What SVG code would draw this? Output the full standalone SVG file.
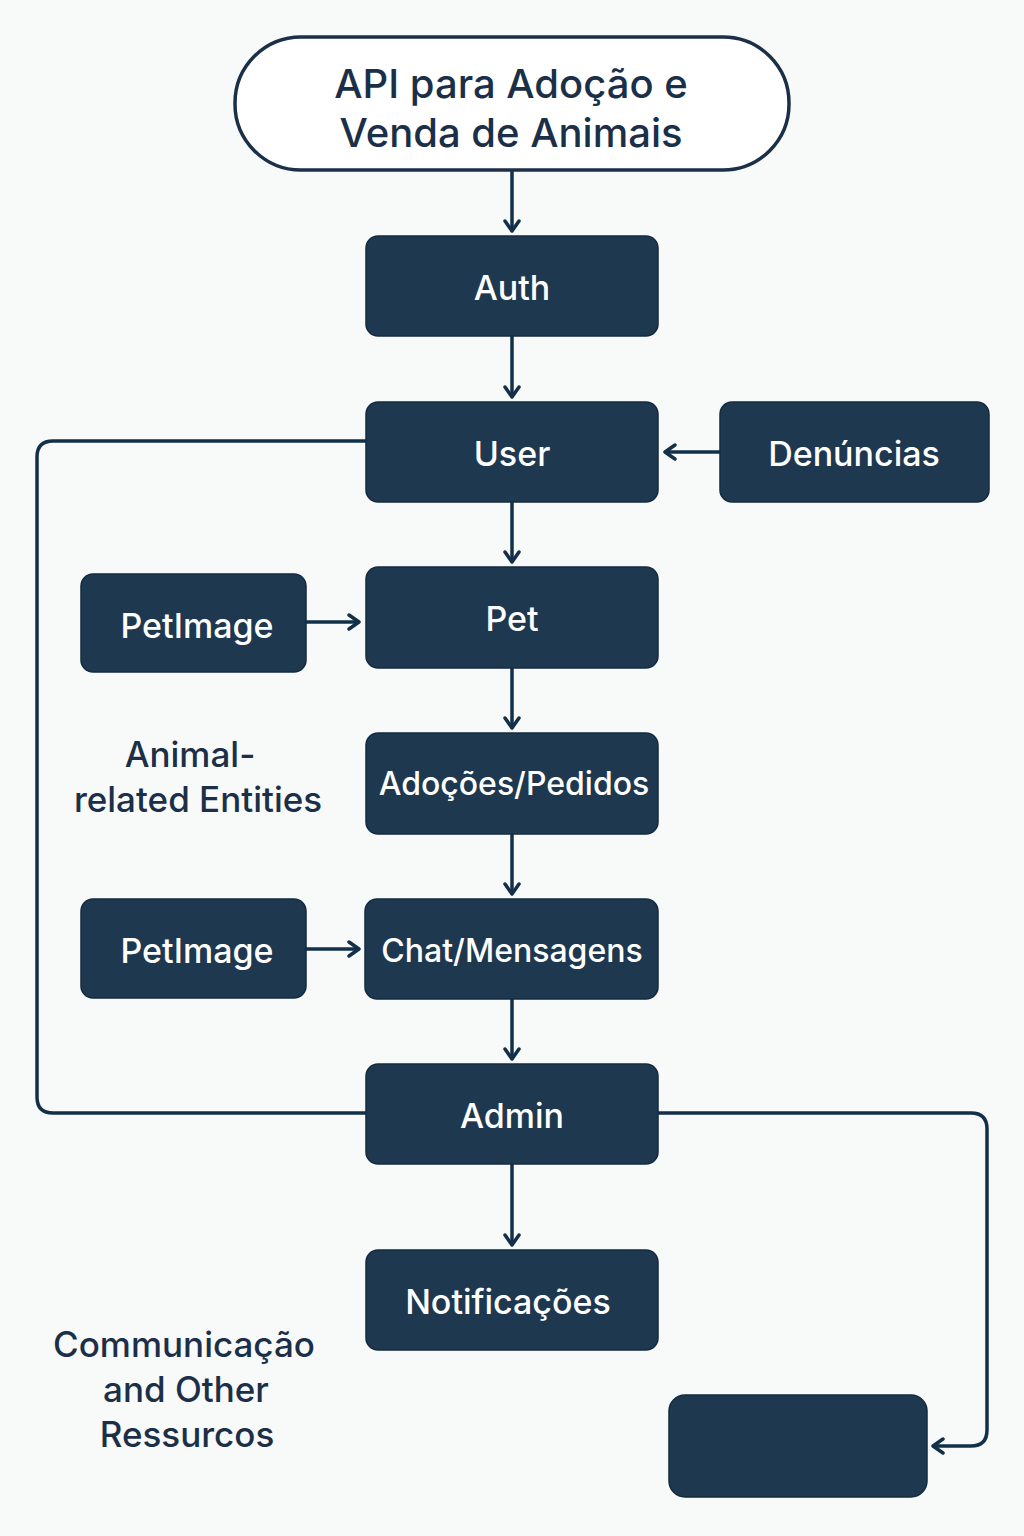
<svg xmlns="http://www.w3.org/2000/svg" width="1024" height="1536" viewBox="0 0 1024 1536">
<style>
.bg{fill:#f8f9f9}
.box{fill:#1e3850;stroke:#132b40;stroke-width:1.5}
.lbl{font-family:Inter,"Noto Sans","Liberation Sans",sans-serif;font-size:34px;fill:#ffffff;text-anchor:middle;dominant-baseline:central;font-weight:500}
.note{font-family:Inter,"Noto Sans","Liberation Sans",sans-serif;font-size:35px;fill:#1b3048;text-anchor:middle;font-weight:500}
.title{font-family:Inter,"Noto Sans","Liberation Sans",sans-serif;font-size:40px;fill:#1b3048;text-anchor:middle;font-weight:500}
.ln{fill:none;stroke:#12304a;stroke-width:3.5;stroke-linejoin:round}
</style>
<defs>
<marker id="ah" markerWidth="14" markerHeight="18" refX="12" refY="9" orient="auto" markerUnits="userSpaceOnUse">
<path d="M2,2 L12,9 L2,16" fill="none" stroke="#12304a" stroke-width="3.5" stroke-linecap="round" stroke-linejoin="round"/>
</marker>
</defs>
<rect class="bg" x="0" y="0" width="1024" height="1536"/>

<g id="connectors">
<line class="ln" x1="512" y1="170" x2="512" y2="231" marker-end="url(#ah)"/>
<line class="ln" x1="512" y1="336" x2="512" y2="397" marker-end="url(#ah)"/>
<line class="ln" x1="512" y1="502" x2="512" y2="562" marker-end="url(#ah)"/>
<line class="ln" x1="512" y1="668" x2="512" y2="728" marker-end="url(#ah)"/>
<line class="ln" x1="512" y1="834" x2="512" y2="894" marker-end="url(#ah)"/>
<line class="ln" x1="512" y1="999" x2="512" y2="1059" marker-end="url(#ah)"/>
<line class="ln" x1="512" y1="1164" x2="512" y2="1245" marker-end="url(#ah)"/>
<line class="ln" x1="720" y1="452" x2="665" y2="452" marker-end="url(#ah)"/>
<line class="ln" x1="306" y1="622" x2="359" y2="622" marker-end="url(#ah)"/>
<line class="ln" x1="306" y1="949" x2="359" y2="949" marker-end="url(#ah)"/>
<path class="ln" d="M366,441 L53,441 Q37,441 37,457 L37,1097 Q37,1113 53,1113 L366,1113"/>
<path class="ln" d="M658,1113 L971,1113 Q987,1113 987,1129 L987,1430 Q987,1446 971,1446 L933,1446" marker-end="url(#ah)"/>
</g>

<g id="title">
<rect x="235" y="37" width="554" height="133" rx="66" fill="#ffffff" stroke="#1b3048" stroke-width="3.5"/>
<text class="title" x="511" y="98">API para Adoção  e</text>
<text class="title" x="511" y="147">Venda de Animais</text>
</g>
<g id="auth"><rect class="box" x="366" y="236" width="292" height="100" rx="12"/><text class="lbl" x="512" y="287">Auth</text></g>
<g id="user"><rect class="box" x="366" y="402" width="292" height="100" rx="12"/><text class="lbl" x="512" y="453">User</text></g>
<g id="denuncias"><rect class="box" x="720" y="402" width="269" height="100" rx="12"/><text class="lbl" x="854" y="453">Denúncias</text></g>
<g id="pet"><rect class="box" x="366" y="567" width="292" height="101" rx="12"/><text class="lbl" x="512" y="618">Pet</text></g>
<g id="petimage1"><rect class="box" x="81" y="574" width="225" height="98" rx="12"/><text class="lbl" x="197" y="625">PetImage</text></g>
<g id="adocoes"><rect class="box" x="366" y="733" width="292" height="101" rx="12"/><text class="lbl" x="514" y="783" style="font-size:32px">Adoções/Pedidos</text></g>
<g id="petimage2"><rect class="box" x="81" y="899" width="225" height="99" rx="12"/><text class="lbl" x="197" y="950">PetImage</text></g>
<g id="chat"><rect class="box" x="365" y="899" width="293" height="100" rx="12"/><text class="lbl" x="512" y="950" style="font-size:32px">Chat/Mensagens</text></g>
<g id="admin"><rect class="box" x="366" y="1064" width="292" height="100" rx="12"/><text class="lbl" x="512" y="1115">Admin</text></g>
<g id="notificacoes"><rect class="box" x="366" y="1250" width="292" height="100" rx="12"/><text class="lbl" x="508" y="1301">Notificações</text></g>
<g id="blank"><rect class="box" x="669" y="1395" width="258" height="102" rx="16"/></g>

<g id="labels">
<text class="note" x="190" y="767">Animal-</text>
<text class="note" x="198" y="812">related Entities</text>
<text class="note" x="184" y="1357">Communicação</text>
<text class="note" x="186" y="1402">and Other</text>
<text class="note" x="187" y="1447">Ressurcos</text>
</g>
</svg>
